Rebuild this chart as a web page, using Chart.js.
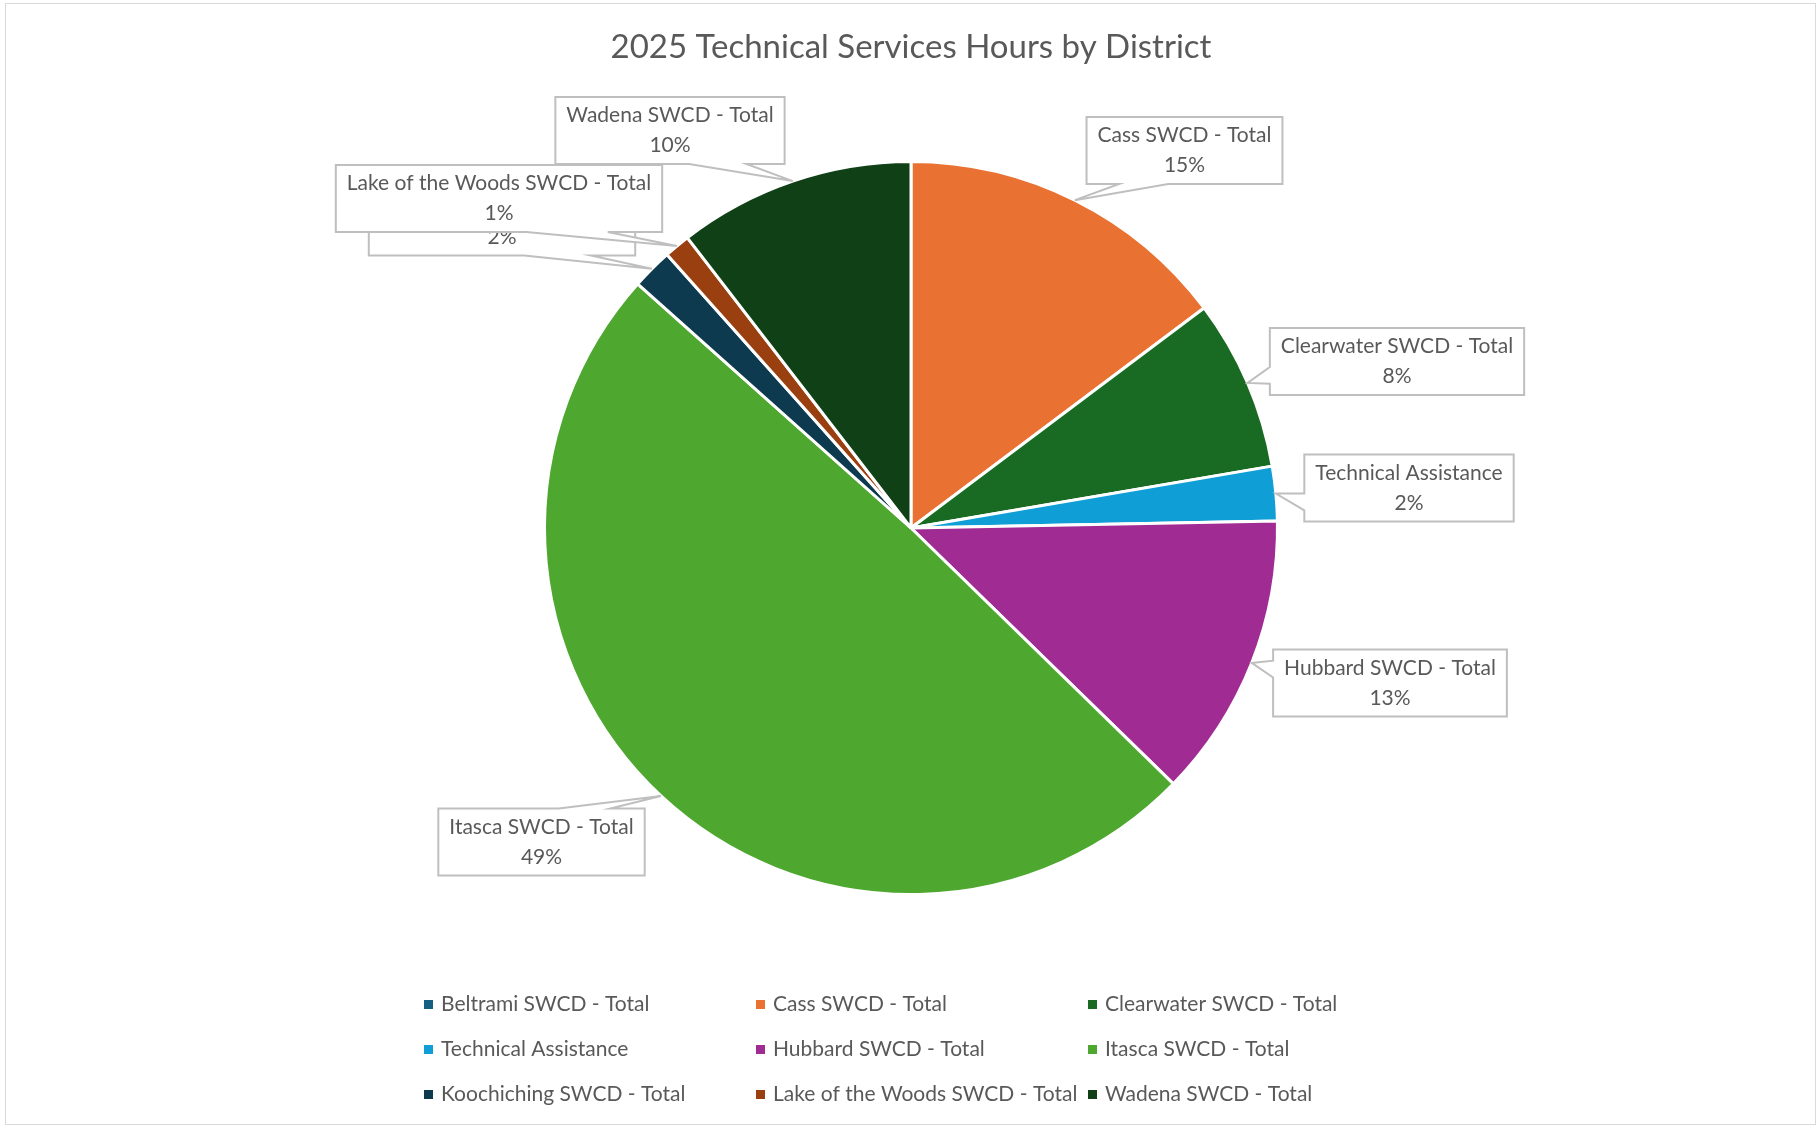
<!DOCTYPE html>
<html>
<head>
<meta charset="utf-8">
<title>2025 Technical Services Hours by District</title>
<script src="https://cdn.jsdelivr.net/npm/chart.js@4.4.1/dist/chart.umd.min.js"></script>
<style>
    html, body { margin: 0; padding: 0; background: #fff; }
    #wrap { position: relative; width: 1818px; height: 1126px; }
</style>
</head>
<body>
<div id="wrap"><canvas id="districtChart"></canvas></div>
<script>
// chart data
const chartTitle = '2025 Technical Services Hours by District';
const districts = [
    'Beltrami SWCD - Total', 'Cass SWCD - Total', 'Clearwater SWCD - Total',
    'Technical Assistance', 'Hubbard SWCD - Total', 'Itasca SWCD - Total',
    'Koochiching SWCD - Total', 'Lake of the Woods SWCD - Total', 'Wadena SWCD - Total'
];
const hours = [0, 147.5, 75.5, 24, 126, 493, 18, 11.5, 104.5];
const sliceColors = [
    '#156082', '#E97132', '#196B24',
    '#0F9ED5', '#A02B93', '#4EA72E',
    '#0D3A4E', '#9A4010', '#0F4016'
];

// where each callout box sits (box centre, canvas px)
const calloutCenters = [
    null, [1184.5, 150.5], [1397, 361.5],
    [1409, 488], [1390, 683], [541.5, 842],
    [502, 222], [499, 198.5], [670, 130.5]
];

const textColor = '#595959';
const fontFamily = 'Lato, "Open Sans", sans-serif';
const labelFont = '21px ' + fontFamily;

function wedgeRectPath(ctx, l, t, w, h, tx, ty) {
    // same shape as the Office "wedgeRectCallout"
    const r = l + w, b = t + h;
    const dx = tx - (l + w / 2), dy = ty - (t + h / 2);
    const inside = tx > l && tx < r && ty > t && ty < b;
    const vert = Math.abs(dy) > Math.abs(dx * h / w);
    const x1 = l + w * (dx > 0 ? 7 : 2) / 12, x2 = l + w * (dx > 0 ? 10 : 5) / 12;
    const y1 = t + h * (dy > 0 ? 7 : 2) / 12, y2 = t + h * (dy > 0 ? 10 : 5) / 12;

    ctx.beginPath();
    ctx.moveTo(l, t);
    if (!inside && vert && dy < 0) { ctx.lineTo(x1, t); ctx.lineTo(tx, ty); ctx.lineTo(x2, t); }
    ctx.lineTo(r, t);
    if (!inside && !vert && dx > 0) { ctx.lineTo(r, y1); ctx.lineTo(tx, ty); ctx.lineTo(r, y2); }
    ctx.lineTo(r, b);
    if (!inside && vert && dy > 0) { ctx.lineTo(x2, b); ctx.lineTo(tx, ty); ctx.lineTo(x1, b); }
    ctx.lineTo(l, b);
    if (!inside && !vert && dx < 0) { ctx.lineTo(l, y2); ctx.lineTo(tx, ty); ctx.lineTo(l, y1); }
    ctx.closePath();
}

const frameAndCallouts = {
    id: 'frameAndCallouts',
    beforeDraw(chart) {
        const ctx = chart.ctx;
        ctx.save();
        ctx.fillStyle = '#fff';
        ctx.fillRect(0, 0, chart.width, chart.height);
        ctx.strokeStyle = '#d9d9d9';
        ctx.lineWidth = 1;
        ctx.strokeRect(5.5, 3.5, 1810, 1121);

        ctx.fillStyle = textColor;
        ctx.font = '33px ' + fontFamily;
        ctx.textAlign = 'center';
        ctx.textBaseline = 'alphabetic';
        ctx.fillText(chartTitle, 911, 58);
        ctx.restore();
    },
    afterDatasetsDraw(chart) {
        const ctx = chart.ctx;
        const meta = chart.getDatasetMeta(0);
        const total = hours.reduce((a, b) => a + b, 0);

        ctx.save();
        ctx.font = labelFont;
        ctx.textAlign = 'center';
        ctx.textBaseline = 'middle';

        meta.data.forEach(function (arc, i) {
            if (!hours[i] || !calloutCenters[i]) return;
            const p = arc.getProps(['x', 'y', 'startAngle', 'endAngle', 'outerRadius'], true);
            const mid = (p.startAngle + p.endAngle) / 2;
            const tipX = p.x + Math.cos(mid) * p.outerRadius;
            const tipY = p.y + Math.sin(mid) * p.outerRadius;

            const lines = [districts[i], Math.round(hours[i] / total * 100) + '%'];
            const w = Math.max(...lines.map(s => ctx.measureText(s).width)) + 22;
            const h = 67;
            const cx = calloutCenters[i][0], cy = calloutCenters[i][1];

            wedgeRectPath(ctx, cx - w / 2, cy - h / 2, w, h, tipX, tipY);
            ctx.fillStyle = '#fff';
            ctx.fill();
            ctx.strokeStyle = '#bfbfbf';
            ctx.lineWidth = 2;
            ctx.stroke();

            ctx.fillStyle = textColor;
            ctx.fillText(lines[0], cx, cy - 15);
            ctx.fillText(lines[1], cx, cy + 15);
        });
        ctx.restore();
    },
    afterDraw(chart) {
        // three-column legend, like Excel's
        const ctx = chart.ctx;
        const legendLeft = 424, legendTop = 1004, colW = 332, rowH = 45;
        ctx.save();
        ctx.font = labelFont;
        ctx.textBaseline = 'middle';
        ctx.textAlign = 'left';
        districts.forEach(function (name, i) {
            const x = legendLeft + (i % 3) * colW;
            const y = legendTop + Math.floor(i / 3) * rowH;
            ctx.fillStyle = sliceColors[i];
            ctx.fillRect(x, y - 4, 9, 9);
            ctx.fillStyle = textColor;
            ctx.fillText(name, x + 17, y);
        });
        ctx.restore();
    }
};

const ctx = document.getElementById('districtChart').getContext('2d');
const districtChart = new Chart(ctx, {
    type: 'pie',
    data: {
        labels: districts,
        datasets: [{
            label: 'Hours',
            data: hours,
            backgroundColor: sliceColors,
            borderColor: '#ffffff',
            borderWidth: 3
        }]
    },
    options: {
        responsive: true,
        maintainAspectRatio: false,
        animation: false,
        layout: {
            padding: { top: 160, bottom: 230, left: 4, right: 0 }
        },
        plugins: {
            legend: { display: false },
            tooltip: { enabled: false },
            title: { display: false }
        }
    },
    plugins: [frameAndCallouts]
});
</script>
</body>
</html>
